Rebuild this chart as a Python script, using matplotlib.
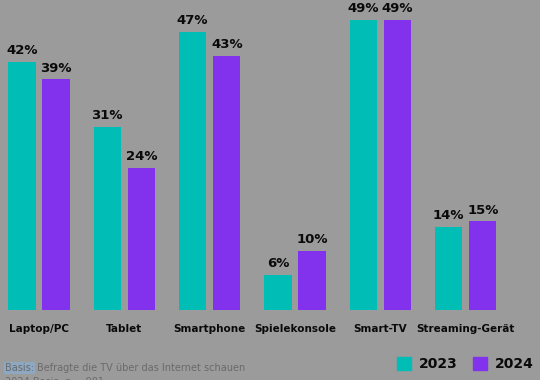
import numpy as np
import matplotlib.pyplot as plt

# Daten
geraete = ['Laptop/PC', 'Tablet', 'Smartphone', 'Spielekonsole', 'Smart-TV', 'Streaming-Gerät']
werte_2023 = [42, 31, 47, 6, 49, 14]
werte_2024 = [39, 24, 43, 10, 49, 15]
jahre = ['2023', '2024']

farbe_2023 = '#00BDB5'
farbe_2024 = '#8232EC'
hintergrund = '#9B9B9B'

fig = plt.figure(figsize=(5.4, 3.8), dpi=100)
fig.patch.set_facecolor(hintergrund)

# Achse über die ganze Breite, Grundlinie bei ca. 310 px
ax = fig.add_axes([0, 70 / 380, 1, 310 / 380])
ax.set_facecolor(hintergrund)

x = np.arange(len(geraete))
breite = 0.32
abstand = 0.2

b1 = ax.bar(x - abstand, werte_2023, breite, color=farbe_2023)
b2 = ax.bar(x + abstand, werte_2024, breite, color=farbe_2024)

for balken, werte in ((b1, werte_2023), (b2, werte_2024)):
    for rect, v in zip(balken, werte):
        ax.text(rect.get_x() + rect.get_width() / 2, v + 0.8, f'{v}%',
                ha='center', va='bottom', fontsize=9.5, fontweight='bold', color='#0A0A0A')

ax.set_xlim(-0.457, 5.87)
ax.set_ylim(0, 52.4)
ax.set_xticks(x)
ax.set_xticklabels(geraete, fontsize=7.5, fontweight='bold', color='#0A0A0A')
ax.tick_params(axis='x', length=0, pad=10)
ax.set_yticks([])
for s in ax.spines.values():
    s.set_visible(False)

# Legende unten rechts
handles = [plt.Rectangle((0, 0), 1, 1, color=farbe_2023),
           plt.Rectangle((0, 0), 1, 1, color=farbe_2024)]
leg = fig.legend(handles, jahre, loc='lower right', bbox_to_anchor=(1.012, -0.01),
                 ncol=2, frameon=False, handlelength=1.0, handleheight=1.0,
                 handletextpad=0.6, columnspacing=1.1,
                 prop={'weight': 'bold', 'size': 10})
for t in leg.get_texts():
    t.set_color('#0A0A0A')

# Fußnote
basis = fig.text(5 / 540, 1 - 368 / 380, 'Basis:', fontsize=7, color='#6A6A6A', va='center',
                 bbox=dict(boxstyle='square,pad=0.15', facecolor='#8EA8C2', edgecolor='none'))
fig.canvas.draw()
rest_x = basis.get_window_extent().x1 / 540 + 3 / 540
fig.text(rest_x, 1 - 368 / 380, 'Befragte die TV über das Internet schauen',
         fontsize=7, color='#6A6A6A', va='center')
fig.text(5 / 540, 1 - 382 / 380, '2024 Basis: n = 981', fontsize=7, color='#6A6A6A',
         va='center')

fig.savefig('out.png', dpi=100, facecolor=hintergrund)
